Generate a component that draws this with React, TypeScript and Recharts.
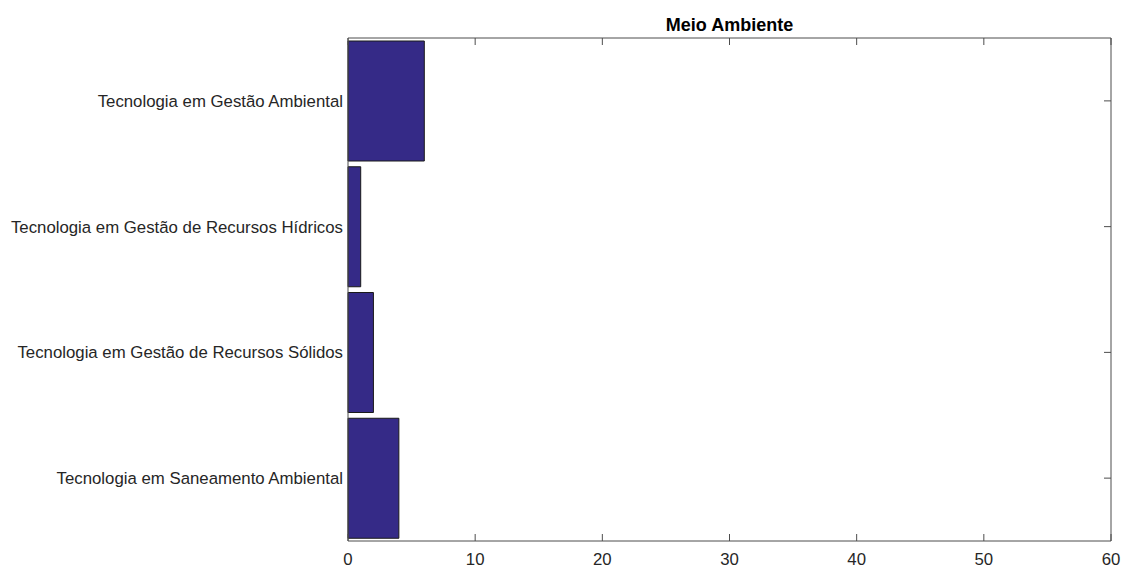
import { Bar, BarChart, XAxis, YAxis } from "recharts";

// MATLAB-style barh: 4 courses, counts along x
const courses = [
  "Tecnologia em Gestão Ambiental",
  "Tecnologia em Gestão de Recursos Hídricos",
  "Tecnologia em Gestão de Recursos Sólidos",
  "Tecnologia em Saneamento Ambiental",
];
const counts = [6, 1, 2, 4];
const xTicks = [0, 10, 20, 30, 40, 50, 60];

const data = courses.map((course, i) => ({ course, count: counts[i] }));

const AXIS = "#4d4d4d";
const TEXT = "#262626";
const FONT = "'Liberation Sans', Arial, Helvetica, sans-serif";
const TICK_LEN = 7;
const MARGIN_TOP = 37;
const PLOT_TOP = MARGIN_TOP + 1; // below the 1px top axis

// inward tick at bottom and mirrored at top of the box, label below
function BottomTick(props: any) {
  const { x, y, payload } = props;
  return (
    <g>
      <line x1={x} x2={x} y1={y} y2={y - TICK_LEN} stroke={AXIS} />
      <line x1={x} x2={x} y1={PLOT_TOP} y2={PLOT_TOP + TICK_LEN} stroke={AXIS} />
      <text
        x={x}
        y={y + 24}
        textAnchor="middle"
        fill={TEXT}
        fontSize={16.8}
        fontFamily={FONT}
      >
        {payload.value}
      </text>
    </g>
  );
}

function RightTick(props: any) {
  const { x, y } = props;
  return <line x1={x} x2={x - TICK_LEN} y1={y} y2={y} stroke={AXIS} />;
}

export default function App() {
  return (
    <div
      style={{
        position: "absolute",
        left: 0,
        top: 0,
        width: 1123,
        height: 568,
        background: "#fff",
        fontFamily: FONT,
      }}
    >
      <div
        style={{
          position: "absolute",
          left: 348,
          width: 763,
          top: 14,
          textAlign: "center",
          fontWeight: "bold",
          fontSize: 18,
          lineHeight: "22px",
          color: "#000",
        }}
      >
        Meio Ambiente
      </div>
      <BarChart
        width={1123}
        height={568}
        data={data}
        layout="vertical"
        margin={{ top: MARGIN_TOP, right: 0, bottom: 0, left: 0 }}
        barCategoryGap={3}
      >
        <XAxis
          type="number"
          domain={[0, 60]}
          ticks={xTicks}
          height={27}
          stroke={AXIS}
          tickLine={false}
          tickSize={0}
          tickMargin={0}
          tick={BottomTick}
        />
        <XAxis
          xAxisId="top"
          orientation="top"
          type="number"
          domain={[0, 60]}
          height={1}
          stroke={AXIS}
          tickLine={false}
          tick={false}
        />
        <YAxis
          type="category"
          dataKey="course"
          width={348}
          stroke={AXIS}
          tickLine={false}
          tickSize={0}
          tickMargin={5}
          tick={{ fill: TEXT, fontSize: 16.8, fontFamily: FONT }}
        />
        <YAxis
          yAxisId="right"
          orientation="right"
          type="category"
          dataKey="course"
          width={12}
          stroke={AXIS}
          tickLine={false}
          tickSize={0}
          tickMargin={0}
          tick={RightTick}
        />
        <Bar
          dataKey="count"
          fill="#352a87"
          stroke="#1a1a1a"
          strokeWidth={1}
          isAnimationActive={false}
        />
      </BarChart>
    </div>
  );
}
